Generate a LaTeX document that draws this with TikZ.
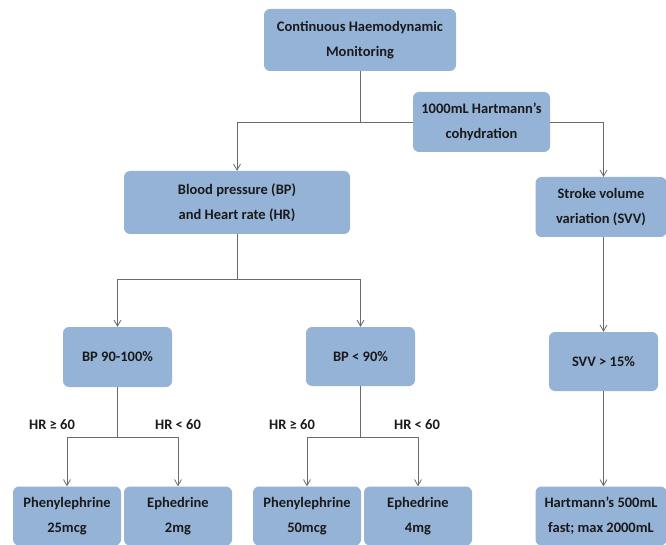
\documentclass[tikz,border=0pt]{standalone}
\usepackage{fontspec}
\setmainfont{Carlito}
\usetikzlibrary{arrows.meta}
\definecolor{boxblue}{HTML}{95B3D7}
\definecolor{linegray}{HTML}{6A6A6A}
\definecolor{txt}{HTML}{1A1A1A}
\begin{document}
\begin{tikzpicture}[x=1pt,y=-1pt,
  box/.style={draw=none,fill=boxblue,rounded corners=6pt,align=center,text=txt,
    font=\fontsize{14.5}{25}\selectfont\bfseries,inner sep=2pt},
  lbl/.style={text=txt,font=\fontsize{14.5}{17}\selectfont\bfseries,inner sep=0pt},
  ln/.style={draw=linegray,line width=0.9pt},
  arr/.style={ln,-{Straight Barb[length=6pt,width=7pt,line width=0.8pt]}}]
\useasboundingbox (0,0) rectangle (666,545);
\node[box,minimum width=192pt,minimum height=62pt] (top) at (360,40) {Continuous Haemodynamic\\Monitoring};
\node[box,minimum width=137pt,minimum height=60pt] (hyd) at (481.5,122) {1000mL Hartmann’s\\cohydration};
\node[box,minimum width=226pt,minimum height=63pt] (bp) at (237,202.5) {Blood pressure (BP)\\and Heart rate (HR)};
\node[box,minimum width=131pt,minimum height=60pt] (svv) at (601,207) {Stroke volume\\variation (SVV)};
\node[box,minimum width=109pt,minimum height=60pt] (bp1) at (117.5,357) {BP 90-100\%};
\node[box,minimum width=109pt,minimum height=59pt] (bp2) at (360.5,356.5) {BP < 90\%};
\node[box,minimum width=109pt,minimum height=59pt] (svv15) at (603.5,361.5) {SVV > 15\%};
\node[box,minimum width=108pt,minimum height=59pt] (ph25) at (67,516) {Phenylephrine\\25mcg};
\node[box,minimum width=108pt,minimum height=59pt] (eph2) at (178,516) {Ephedrine\\2mg};
\node[box,minimum width=108pt,minimum height=59pt] (ph50) at (307,516) {Phenylephrine\\50mcg};
\node[box,minimum width=108pt,minimum height=59pt] (eph4) at (418,516) {Ephedrine\\4mg};
\node[box,minimum width=131pt,minimum height=59pt] (hart) at (601,516) {Hartmann’s 500mL\\fast; max 2000mL};
\node[lbl] (l1) at (52,425) {HR ≥ 60};
\node[lbl] (l2) at (178,425) {HR < 60};
\node[lbl] (l3) at (292,425) {HR ≥ 60};
\node[lbl] (l4) at (417,425) {HR < 60};
\coordinate (j2) at (237,279);
\coordinate (j3) at (117.5,437);
\coordinate (j4) at (360.5,437);
% connectors
\draw[ln] (top.south) -- (top.south |- hyd.west);
\draw[arr] (hyd.west) -| (bp.north);
\draw[arr] (hyd.east) -| (svv15.north |- svv.north);
\draw[ln] (bp.south) -- (j2);
\draw[arr] (j2) -| (bp1.north);
\draw[arr] (j2) -| (bp2.north);
\draw[arr] (svv15.north |- svv.south) -- (svv15.north);
\draw[ln] (bp1.south) -- (j3);
\draw[arr] (j3) -| (ph25.north);
\draw[arr] (j3) -| (eph2.north);
\draw[ln] (bp2.south) -- (j4);
\draw[arr] (j4) -| (ph50.north);
\draw[arr] (j4) -| (eph4.north);
\draw[arr] (svv15.south) -- (svv15.south |- hart.north);
\end{tikzpicture}
\end{document}
